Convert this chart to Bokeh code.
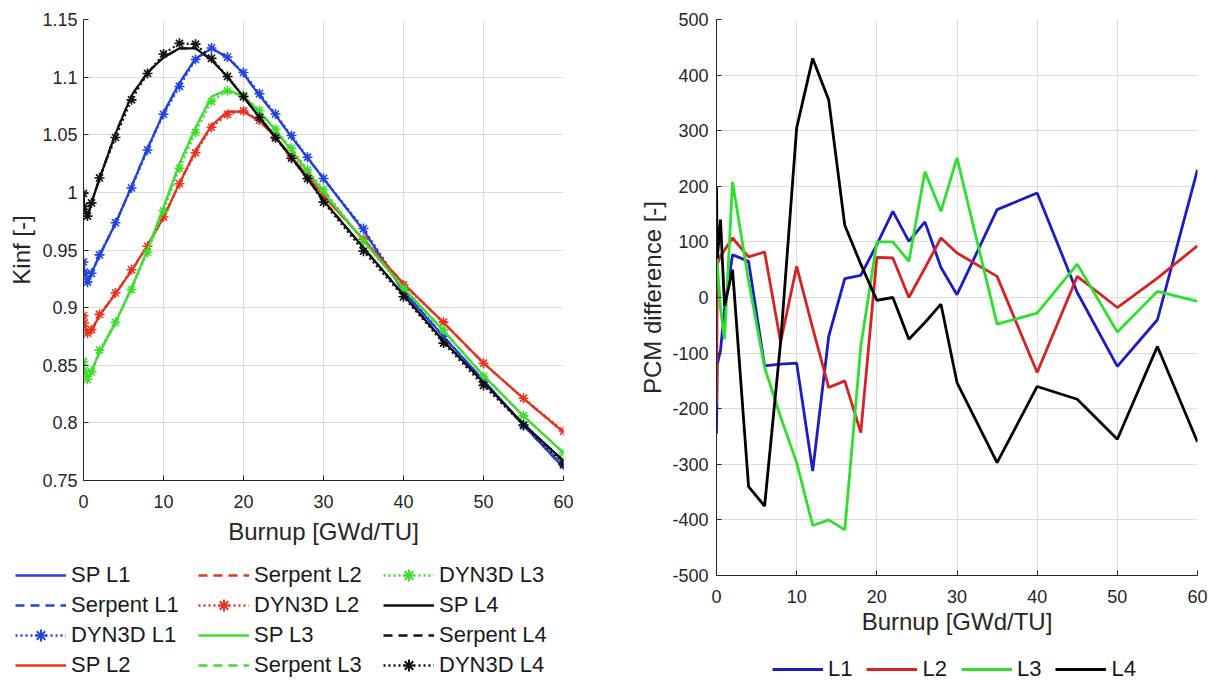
from bokeh.plotting import figure
from bokeh.models import Range1d, FixedTicker, Legend, LegendItem
from bokeh.layouts import row, column
from bokeh.embed import file_html
from bokeh.resources import INLINE

# ---------------- data ----------------
burnup = [0, 0.1, 0.5, 1, 2, 4, 6, 8, 10, 12, 14, 16, 18, 20, 22, 24, 26, 28, 30, 35, 40, 45, 50, 55, 60]

sp_l1 = [0.942, 0.932, 0.923, 0.930, 0.945, 0.973, 1.005, 1.038, 1.069, 1.095, 1.116, 1.125, 1.117, 1.103, 1.084, 1.067, 1.048, 1.030, 1.012, 0.967, 0.914, 0.875, 0.837, 0.798, 0.761]
serpent_l1 = [0.9418, 0.9322, 0.9231, 0.9302, 0.9451, 0.9728, 1.0052, 1.0381, 1.0688, 1.0951, 1.1158, 1.1249, 1.1172, 1.1031, 1.0838, 1.0671, 1.0482, 1.0299, 1.0121, 0.9669, 0.9141, 0.8748, 0.8371, 0.7979, 0.7611]
dyn3d_l1 = [0.9396, 0.9308, 0.9221, 0.9298, 0.9458, 0.9737, 1.0038, 1.0368, 1.0678, 1.0919, 1.1153, 1.1253, 1.1174, 1.1040, 1.0856, 1.0680, 1.0494, 1.0305, 1.0121, 0.9686, 0.9159, 0.8751, 0.8358, 0.7976, 0.7633]

sp_l2 = [0.895, 0.886, 0.877, 0.880, 0.893, 0.912, 0.932, 0.954, 0.978, 1.008, 1.036, 1.058, 1.070, 1.070, 1.062, 1.048, 1.031, 1.014, 0.997, 0.959, 0.921, 0.887, 0.852, 0.821, 0.792]
serpent_l2 = [0.8952, 0.8859, 0.8771, 0.8801, 0.8929, 0.9121, 0.9318, 0.9541, 0.9779, 1.0081, 1.0359, 1.0581, 1.0699, 1.0701, 1.0619, 1.0481, 1.0309, 1.0141, 0.9969, 0.9591, 0.9209, 0.8871, 0.8519, 0.8211, 0.7919]
dyn3d_l2 = [0.8931, 0.8866, 0.8778, 0.8809, 0.8941, 0.9127, 0.9328, 0.9532, 0.9786, 1.0075, 1.0344, 1.0565, 1.0676, 1.0707, 1.0627, 1.0480, 1.0315, 1.0151, 0.9978, 0.9594, 0.9197, 0.8874, 0.8518, 0.8214, 0.7929]

sp_l3 = [0.852, 0.845, 0.838, 0.845, 0.861, 0.887, 0.917, 0.950, 0.987, 1.025, 1.056, 1.083, 1.089, 1.083, 1.070, 1.054, 1.036, 1.018, 1.000, 0.958, 0.917, 0.880, 0.841, 0.806, 0.774]
serpent_l3 = [0.8519, 0.8451, 0.8381, 0.8449, 0.8611, 0.8869, 0.9171, 0.9499, 0.9871, 1.0249, 1.0561, 1.0829, 1.0891, 1.0829, 1.0701, 1.0539, 1.0361, 1.0179, 1.0001, 0.9579, 0.9171, 0.8799, 0.8411, 0.8059, 0.7741]
dyn3d_l3 = [0.8531, 0.8456, 0.8378, 0.8443, 0.8631, 0.8873, 0.9157, 0.9479, 0.9840, 1.0209, 1.0520, 1.0788, 1.0881, 1.0840, 1.0710, 1.0547, 1.0383, 1.0196, 1.0025, 0.9575, 0.9167, 0.8806, 0.8404, 0.8061, 0.7739]

sp_l4 = [0.997, 0.987, 0.978, 0.991, 1.012, 1.051, 1.084, 1.104, 1.117, 1.125, 1.125, 1.115, 1.100, 1.083, 1.065, 1.048, 1.030, 1.012, 0.993, 0.952, 0.911, 0.871, 0.835, 0.799, 0.767]
serpent_l4 = [0.9971, 0.9869, 0.9781, 0.9911, 1.0119, 1.0511, 1.0841, 1.1039, 1.1171, 1.1249, 1.1251, 1.1149, 1.1001, 1.0829, 1.0651, 1.0481, 1.0299, 1.0121, 0.9931, 0.9519, 0.9111, 0.8709, 0.8351, 0.7989, 0.7671]
dyn3d_l4 = [0.9990, 0.9877, 0.9794, 0.9909, 1.0125, 1.0476, 1.0803, 1.1032, 1.1201, 1.1293, 1.1286, 1.1163, 1.1006, 1.0830, 1.0650, 1.0473, 1.0296, 1.0119, 0.9915, 0.9490, 0.9094, 0.8692, 0.8325, 0.7981, 0.7644]

pcm_l1 = [-245, -120, -95, -20, 77, 65, -123, -120, -118, -312, -70, 34, 40, 95, 155, 101, 136, 54, 5, 158, 188, 9, -124, -40, 230]
pcm_l2 = [-190, 60, 75, 85, 107, 73, 82, -80, 56, -55, -162, -150, -243, 72, 71, 0, 53, 107, 80, 38, -135, 38, -18, 35, 93]
pcm_l3 = [110, 60, -20, -75, 208, 30, -126, -215, -297, -410, -400, -418, -88, 100, 100, 65, 226, 155, 251, -48, -28, 60, -62, 11, -7]
pcm_l4 = [200, 70, 140, -15, 50, -340, -375, -80, 305, 430, 355, 130, 60, -5, 0, -75, -45, -12, -153, -297, -160, -183, -255, -88, -260]

lattices = ["L1", "L2", "L3", "L4"]

x_tick_vals = [0, 10, 20, 30, 40, 50, 60]
x_tick_labels = ["0", "10", "20", "30", "40", "50", "60"]
kinf_tick_vals = [0.75, 0.8, 0.85, 0.9, 0.95, 1.0, 1.05, 1.1, 1.15]
kinf_tick_labels = ["0.75", "0.8", "0.85", "0.9", "0.95", "1", "1.05", "1.1", "1.15"]
pcm_tick_vals = [-500, -400, -300, -200, -100, 0, 100, 200, 300, 400, 500]
pcm_tick_labels = ["-500", "-400", "-300", "-200", "-100", "0", "100", "200", "300", "400", "500"]

# ---------------- style ----------------
FONT = "Liberation Sans"
AX = "#262626"
GRID = "#dcdcdc"
left_colors = ["#2244dd", "#e4341f", "#3fdc2f", "#111111"]
right_colors = ["#1c1cc4", "#d82222", "#2ee02e", "#000000"]


def style(p, xt, xl, yt, yl, xlabel, ylabel, y_std, ylab_std, xlab_std):
    p.xaxis.ticker = FixedTicker(ticks=xt)
    p.yaxis.ticker = FixedTicker(ticks=yt)
    p.xgrid.ticker = FixedTicker(ticks=xt)
    p.ygrid.ticker = FixedTicker(ticks=yt)
    p.xaxis.major_label_overrides = dict(zip(xt, xl))
    p.yaxis.major_label_overrides = dict(zip(yt, yl))
    p.xaxis.axis_label = xlabel
    p.yaxis.axis_label = ylabel
    for ax in (p.xaxis[0], p.yaxis[0]):
        ax.axis_line_color = AX
        ax.axis_line_width = 1
        ax.major_tick_line_color = AX
        ax.major_tick_in = 5
        ax.major_tick_out = 0
        ax.minor_tick_line_color = None
        ax.major_label_text_font = FONT
        ax.major_label_text_font_size = "18px"
        ax.major_label_text_color = AX
        ax.axis_label_text_font = FONT
        ax.axis_label_text_font_size = "24px"
        ax.axis_label_text_font_style = "normal"
        ax.axis_label_text_color = AX
    p.xaxis.major_label_standoff = 14
    p.yaxis.major_label_standoff = y_std
    p.xaxis.axis_label_standoff = xlab_std
    p.yaxis.axis_label_standoff = ylab_std
    p.xgrid.grid_line_color = GRID
    p.ygrid.grid_line_color = GRID
    p.outline_line_color = None
    p.background_fill_color = "white"
    p.border_fill_color = "white"
    p.frame_align = False


def legend_figure(w, h):
    # a strip that only carries the legend; its y-range lies away from the data,
    # so the swatch renderers draw nothing inside it
    f = figure(width=w, height=h, x_range=Range1d(0, 60), y_range=Range1d(5000, 6000),
               output_backend="svg", toolbar_location=None,
               x_axis_location=None, y_axis_location=None,
               min_border=0, min_border_left=0, min_border_right=0,
               min_border_top=0, min_border_bottom=0)
    f.xgrid.visible = False
    f.ygrid.visible = False
    f.outline_line_color = None
    f.background_fill_color = "white"
    f.border_fill_color = "white"
    f.frame_align = False
    return f


def make_legend(items, x, y, orientation="vertical", spacing=0, h=30):
    lg = Legend(items=items, location=(x, y), orientation=orientation)
    lg.glyph_width = 51
    lg.glyph_height = h
    lg.label_height = h
    lg.label_standoff = 5
    lg.spacing = spacing
    lg.padding = 0
    lg.margin = 0
    lg.border_line_color = None
    lg.background_fill_alpha = 0
    lg.label_text_font = FONT
    lg.label_text_font_size = "22px"
    lg.label_text_color = "#1a1a1a"
    return lg


# ---------------- left panel ----------------
left = figure(width=606, height=560, x_range=Range1d(0, 60), y_range=Range1d(0.75, 1.15),
              output_backend="svg", toolbar_location=None,
              min_border_left=83, min_border_right=43, min_border_top=19, min_border_bottom=80)
style(left, x_tick_vals, x_tick_labels, kinf_tick_vals, kinf_tick_labels,
      "Burnup [GWd/TU]", "Kinf [-]", 6, 4, 7)

left_leg = legend_figure(606, 122)

sp_sets = [sp_l1, sp_l2, sp_l3, sp_l4]
serp_sets = [serpent_l1, serpent_l2, serpent_l3, serpent_l4]
dyn_sets = [dyn3d_l1, dyn3d_l2, dyn3d_l3, dyn3d_l4]

legend_items = []
for name, c, sp, se, dy in zip(lattices, left_colors, sp_sets, serp_sets, dyn_sets):
    left.line(burnup, sp, line_color=c, line_width=2.2)
    left.line(burnup, se, line_color=c, line_width=2.2, line_dash="8 5")
    left.line(burnup, dy, line_color=c, line_width=2.2, line_dash="2 3")
    left.scatter(burnup, dy, marker="asterisk", size=10, line_color=c, line_width=1.6)
    g_sp = left_leg.line(burnup, sp, line_color=c, line_width=2.5)
    g_se = left_leg.line(burnup, se, line_color=c, line_width=2.5, line_dash="9 6")
    g_dy = left_leg.line(burnup, dy, line_color=c, line_width=2.5, line_dash="2 3")
    g_dm = left_leg.scatter(burnup, dy, marker="asterisk", size=10, line_color=c, line_width=2)
    legend_items.append(LegendItem(label="SP " + name, renderers=[g_sp]))
    legend_items.append(LegendItem(label="Serpent " + name, renderers=[g_se]))
    legend_items.append(LegendItem(label="DYN3D " + name, renderers=[g_dy, g_dm]))

for k, xoff in enumerate([15, 198, 383]):
    left_leg.add_layout(make_legend(legend_items[4 * k:4 * k + 4], xoff, 2))

# ---------------- right panel ----------------
right = figure(width=606, height=650, x_range=Range1d(0, 60), y_range=Range1d(-500, 500),
               output_backend="svg", toolbar_location=None,
               min_border_left=110, min_border_right=15, min_border_top=19, min_border_bottom=75)
style(right, x_tick_vals, x_tick_labels, pcm_tick_vals, pcm_tick_labels,
      "Burnup [GWd/TU]", "PCM difference [-]", 8, 3, 2)

right_leg = legend_figure(606, 32)

pcm_sets = [pcm_l1, pcm_l2, pcm_l3, pcm_l4]
r_items = []
for name, c, d in zip(lattices, right_colors, pcm_sets):
    right.line(burnup, d, line_color=c, line_width=2.8)
    g = right_leg.line(burnup, d, line_color=c, line_width=2.8)
    r_items.append(LegendItem(label=name, renderers=[g]))

right_leg.add_layout(make_legend(r_items, 166, 0, orientation="horizontal", spacing=14, h=24))

layout = row(column(left, left_leg), column(right, right_leg))
open("out.html", "w").write(file_html(layout, INLINE))
